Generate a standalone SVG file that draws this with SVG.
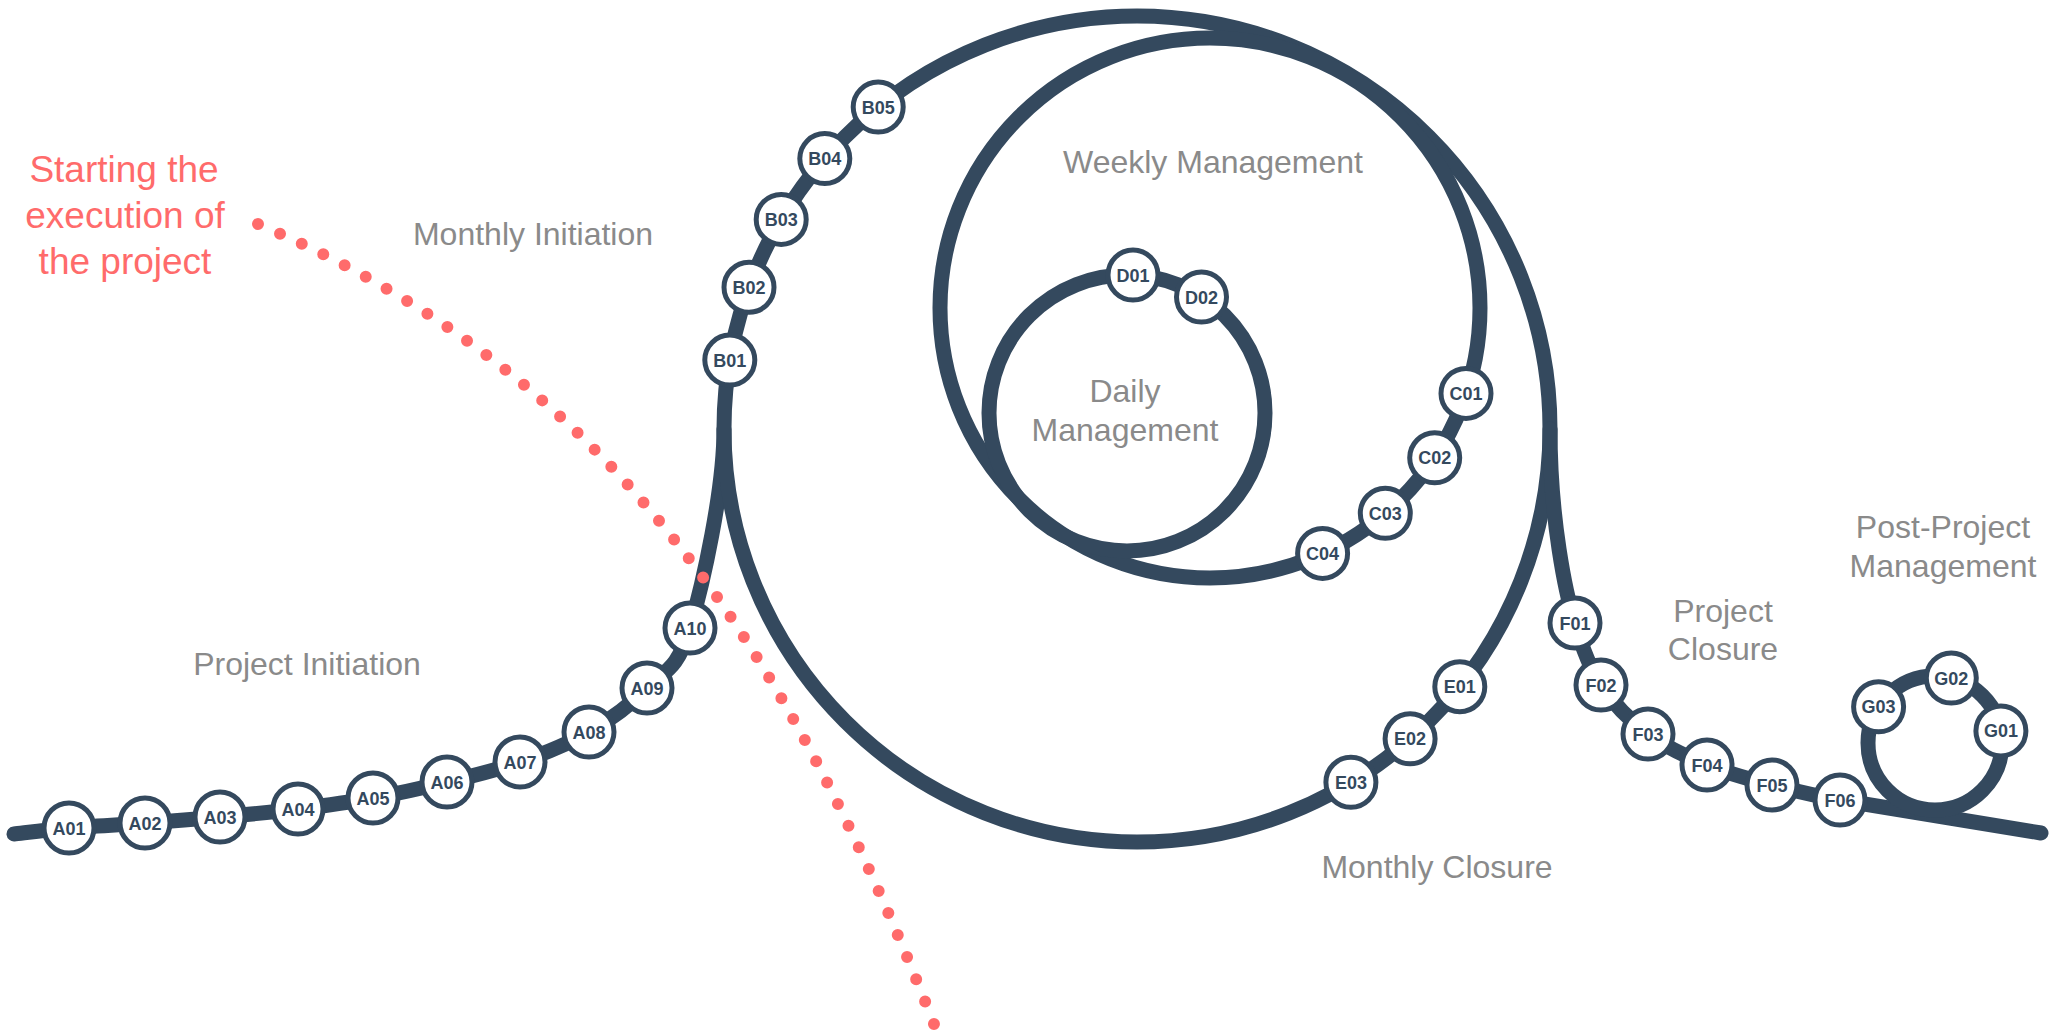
<svg xmlns="http://www.w3.org/2000/svg" width="2056" height="1031" viewBox="0 0 2056 1031">
<style>
.line{fill:none;stroke:#34495E;stroke-width:15;stroke-linecap:round;stroke-linejoin:round}
.dots{fill:none;stroke:#FF6B6B;stroke-width:12;stroke-linecap:round;stroke-dasharray:0 0.9999}
.node circle{fill:#FFFFFF;stroke:#34495E;stroke-width:5}
.node text{font-family:"Liberation Sans",Arial,sans-serif;font-weight:bold;font-size:18px;fill:#34495E;text-anchor:middle}
.lbl{font-family:"Liberation Sans",Arial,sans-serif;font-size:32px;fill:#8A8A8A;text-anchor:middle}
.red{font-family:"Liberation Sans",Arial,sans-serif;font-size:37px;fill:#FF6B6B;text-anchor:middle}
</style>
<rect width="2056" height="1031" fill="#FFFFFF"/>
<g id="connectors">
<path class="line" d="M 14 834 C 23.2 833, 47.2 829.8, 69 828 C 90.8 826.2, 119.8 824.8, 145 823 C 170.2 821.2, 194.5 819.3, 220 817 C 245.5 814.7, 272.5 812.2, 298 809 C 323.5 805.8, 348.2 802.5, 373 798 C 397.8 793.5, 422.5 788, 447 782 C 471.5 776, 496.3 770.3, 520 762 C 543.7 753.7, 567.8 744.3, 589 732 C 610.2 719.7, 630.2 705.3, 647 688 C 663.8 670.7, 677.2 671.2, 690 628 C 702.8 584.8, 724 490, 724 429"/>
<circle class="line" cx="1137" cy="429" r="413"/>
<circle class="line" cx="1210" cy="308" r="270"/>
<circle class="line" cx="1127" cy="413" r="138"/>
<path class="line" d="M 1550 429 C 1550 520, 1566 595, 1575 623 C 1581 643.8, 1588.8 666.5, 1601 685 C 1613.2 703.5, 1630.3 720.7, 1648 734 C 1665.7 747.3, 1686.3 756.5, 1707 765 C 1727.7 773.5, 1749.8 779.2, 1772 785 C 1794.2 790.8, 1817.3 796.3, 1840 800 L 2041 833"/>
<circle class="line" cx="1935" cy="743" r="67"/>
</g>
<path id="execution-start" class="dots" pathLength="45" d="M 258 224 C 607 374, 781 633, 934 1024"/>
<g id="labels">
<text class="red" x="124" y="182">Starting the</text>
<text class="red" x="125" y="228">execution of</text>
<text class="red" x="125" y="274">the project</text>
<text class="lbl" x="533" y="245">Monthly Initiation</text>
<text class="lbl" x="307" y="675">Project Initiation</text>
<text class="lbl" x="1213" y="173">Weekly Management</text>
<text class="lbl" x="1125" y="402">Daily</text>
<text class="lbl" x="1125" y="441">Management</text>
<text class="lbl" x="1437" y="878">Monthly Closure</text>
<text class="lbl" x="1723" y="622">Project</text>
<text class="lbl" x="1723" y="660">Closure</text>
<text class="lbl" x="1943" y="538">Post-Project</text>
<text class="lbl" x="1943" y="577">Management</text>
</g>
<g id="nodes">
<g id="A01" class="node" transform="translate(69,828)"><circle r="25"/><text y="6.5">A01</text></g>
<g id="A02" class="node" transform="translate(145,823)"><circle r="25"/><text y="6.5">A02</text></g>
<g id="A03" class="node" transform="translate(220,817)"><circle r="25"/><text y="6.5">A03</text></g>
<g id="A04" class="node" transform="translate(298,809)"><circle r="25"/><text y="6.5">A04</text></g>
<g id="A05" class="node" transform="translate(373,798)"><circle r="25"/><text y="6.5">A05</text></g>
<g id="A06" class="node" transform="translate(447,782)"><circle r="25"/><text y="6.5">A06</text></g>
<g id="A07" class="node" transform="translate(520,762)"><circle r="25"/><text y="6.5">A07</text></g>
<g id="A08" class="node" transform="translate(589,732)"><circle r="25"/><text y="6.5">A08</text></g>
<g id="A09" class="node" transform="translate(647,688)"><circle r="25"/><text y="6.5">A09</text></g>
<g id="A10" class="node" transform="translate(690,628)"><circle r="25"/><text y="6.5">A10</text></g>
<g id="B01" class="node" transform="translate(729.8,360.1)"><circle r="25"/><text y="6.5">B01</text></g>
<g id="B02" class="node" transform="translate(749,287.3)"><circle r="25"/><text y="6.5">B02</text></g>
<g id="B03" class="node" transform="translate(781.2,219.4)"><circle r="25"/><text y="6.5">B03</text></g>
<g id="B04" class="node" transform="translate(824.8,158.6)"><circle r="25"/><text y="6.5">B04</text></g>
<g id="B05" class="node" transform="translate(878.2,107.1)"><circle r="25"/><text y="6.5">B05</text></g>
<g id="C01" class="node" transform="translate(1466,393.4)"><circle r="25"/><text y="6.5">C01</text></g>
<g id="C02" class="node" transform="translate(1434.7,457.8)"><circle r="25"/><text y="6.5">C02</text></g>
<g id="C03" class="node" transform="translate(1385.3,513.3)"><circle r="25"/><text y="6.5">C03</text></g>
<g id="C04" class="node" transform="translate(1322.6,553.4)"><circle r="25"/><text y="6.5">C04</text></g>
<g id="D01" class="node" transform="translate(1133,275)"><circle r="25"/><text y="6.5">D01</text></g>
<g id="D02" class="node" transform="translate(1201.5,297)"><circle r="25"/><text y="6.5">D02</text></g>
<g id="E01" class="node" transform="translate(1459.8,686.7)"><circle r="25"/><text y="6.5">E01</text></g>
<g id="E02" class="node" transform="translate(1410.1,738.8)"><circle r="25"/><text y="6.5">E02</text></g>
<g id="E03" class="node" transform="translate(1350.9,782.3)"><circle r="25"/><text y="6.5">E03</text></g>
<g id="F01" class="node" transform="translate(1575,623)"><circle r="25"/><text y="6.5">F01</text></g>
<g id="F02" class="node" transform="translate(1601,685)"><circle r="25"/><text y="6.5">F02</text></g>
<g id="F03" class="node" transform="translate(1648,734)"><circle r="25"/><text y="6.5">F03</text></g>
<g id="F04" class="node" transform="translate(1707,765)"><circle r="25"/><text y="6.5">F04</text></g>
<g id="F05" class="node" transform="translate(1772,785)"><circle r="25"/><text y="6.5">F05</text></g>
<g id="F06" class="node" transform="translate(1840,800)"><circle r="25"/><text y="6.5">F06</text></g>
<g id="G01" class="node" transform="translate(2000.9,730.9)"><circle r="25"/><text y="6.5">G01</text></g>
<g id="G02" class="node" transform="translate(1951.3,678)"><circle r="25"/><text y="6.5">G02</text></g>
<g id="G03" class="node" transform="translate(1878.6,706.8)"><circle r="25"/><text y="6.5">G03</text></g>
</g>
</svg>
